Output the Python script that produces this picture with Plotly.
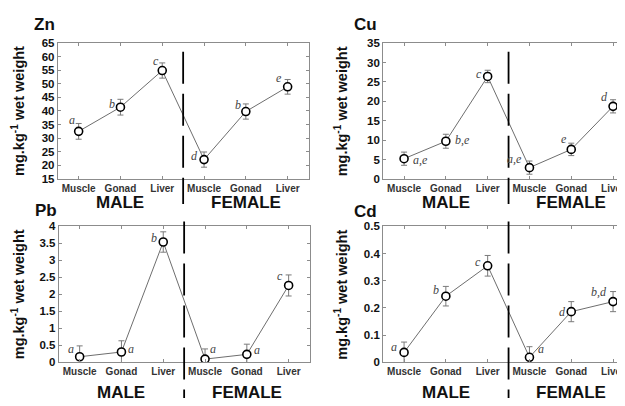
import plotly.graph_objects as go

# ---------------- data ----------------
tissues = ["Muscle", "Gonad", "Liver", "Muscle", "Gonad", "Liver"]
sex_groups = ["MALE", "FEMALE"]
x_pos = [0, 1, 2, 3, 4, 5]

zn_mean = [32.5, 41.4, 54.9, 22.1, 39.8, 48.9]
zn_err = [2.9, 2.9, 2.8, 2.8, 2.8, 2.7]
zn_letters = ["a", "b", "c", "d", "b", "e"]

cu_mean = [5.2, 9.7, 26.4, 2.9, 7.6, 18.7]
cu_err = [1.7, 1.8, 1.6, 1.7, 1.6, 1.7]
cu_letters = ["a,e", "b,e", "c", "a,e", "e", "d"]

pb_mean = [0.16, 0.30, 3.54, 0.09, 0.23, 2.26]
pb_err = [0.32, 0.33, 0.30, 0.30, 0.30, 0.31]
pb_letters = ["a", "a", "b", "a", "a", "c"]

cd_mean = [0.036, 0.243, 0.355, 0.018, 0.186, 0.223]
cd_err = [0.038, 0.036, 0.038, 0.039, 0.037, 0.037]
cd_letters = ["a", "b", "c", "a", "d", "b,d"]

# ---------------- layout helpers ----------------
# the page body has an 8px default margin, so the figure is offset by 8px
OFF = 8
W, H = 625 - OFF, 406 - OFF
PX_PER_UNIT = 42.0

def fx(px):
    return (px - OFF) / W

def fy(py):
    return 1 - (py - OFF) / H

panels = [
    dict(title="Zn", mean=zn_mean, err=zn_err, letters=zn_letters,
         box=(58, 310, 38, 178), yrange=[15, 65], dtick=5, right=False,
         title_xy=(45, 19), ylab_x=18, div=(47, 204), sex_y=202,
         offs=[(-7, -11, "center"), (-8, -3, "center"), (-6, -10, "center"),
               (-10, -4, "center"), (-8, -7, "center"), (-9, -9, "center")]),
    dict(title="Cu", mean=cu_mean, err=cu_err, letters=cu_letters,
         box=(385, 625, 38, 178), yrange=[0, 35], dtick=5, right=True,
         title_xy=(367, 19), ylab_x=343, div=(47, 204), sex_y=202,
         offs=[(7, 1, "left"), (7, -1, "left"), (-9, -2, "center"),
               (-5, -9, "right"), (-7, -10, "center"), (-9, -9, "center")]),
    dict(title="Pb", mean=pb_mean, err=pb_err, letters=pb_letters,
         box=(59, 311, 227, 367), yrange=[0, 4], dtick=0.5, right=False,
         title_xy=(46, 211), ylab_x=18, div=(222, 404), sex_y=398,
         offs=[(-9, -8, "center"), (10, -3, "center"), (-9, -4, "center"),
               (8, -10, "center"), (10, -4, "center"), (-9, -9, "center")]),
    dict(title="Cd", mean=cd_mean, err=cd_err, letters=cd_letters,
         box=(385, 625, 227, 367), yrange=[0, 0.5], dtick=0.1, right=True,
         title_xy=(367, 212), ylab_x=343, div=(222, 404), sex_y=398,
         offs=[(-10, -5, "center"), (-10, -6, "center"), (-10, -4, "center"),
               (12, -8, "center"), (-9, 0, "center"), (-4, -10, "right")]),
]

FONT = "Arial, Liberation Sans, sans-serif"
SERIF = "Times New Roman, Liberation Serif, serif"

fig = go.Figure()
annotations = []
shapes = []
layout_axes = {}

for i, p in enumerate(panels):
    n = "" if i == 0 else str(i + 1)
    xa, ya = "x" + n, "y" + n
    x0, x1, y0, y1 = p["box"]
    xr = [-0.5, -0.5 + (x1 - x0) / PX_PER_UNIT]

    fig.add_trace(go.Scatter(
        x=x_pos, y=p["mean"], xaxis=xa, yaxis=ya, mode="lines+markers",
        line=dict(color="#6e6e6e", width=1),
        marker=dict(symbol="circle", size=8, color="white",
                    line=dict(color="black", width=1.6)),
        error_y=dict(type="data", array=p["err"], color="#7a7a7a",
                     thickness=1, width=3),
        showlegend=False, hoverinfo="skip"))

    layout_axes["xaxis" + n] = dict(
        domain=[fx(x0), fx(x1)], range=xr, anchor=ya,
        tickmode="array", tickvals=x_pos, ticktext=tissues,
        showgrid=False, zeroline=False, showline=True, linecolor="#8c8c8c",
        linewidth=1, mirror="allticks", ticks="inside", ticklen=3,
        tickcolor="#8c8c8c", ticklabeloverflow="allow",
        tickfont=dict(family=FONT, size=10, color="#333333", weight="bold"))
    layout_axes["yaxis" + n] = dict(
        domain=[fy(y1), fy(y0)], range=p["yrange"], anchor=xa,
        dtick=p["dtick"], tick0=0, showgrid=False, zeroline=False,
        showline=True, linecolor="#8c8c8c", linewidth=1,
        mirror=(False if p["right"] else "allticks"),
        ticks="inside", ticklen=3, tickcolor="#8c8c8c",
        tickfont=dict(family=FONT, size=11.5, color="#111111", weight="bold"))

    # panel title
    tx, ty = p["title_xy"]
    annotations.append(dict(text="<b>%s</b>" % p["title"], xref="paper", yref="paper",
                            x=fx(tx), y=fy(ty), xanchor="center", yanchor="middle",
                            showarrow=False, font=dict(family=FONT, size=17, color="#111")))
    # y-axis title
    annotations.append(dict(text="<b>mg.kg<sup>-1</sup> wet weight</b>", xref="paper", yref="paper",
                            x=fx(p["ylab_x"]), y=fy((y0 + y1) / 2), xanchor="center",
                            yanchor="middle", textangle=-90, showarrow=False,
                            font=dict(family=FONT, size=14.5, color="#111")))
    # MALE / FEMALE
    for g, gx in zip(sex_groups, [1, 4]):
        annotations.append(dict(text="<b>%s</b>" % g, xref=xa, yref="paper",
                                x=gx, y=fy(p["sex_y"]), xanchor="center", yanchor="middle",
                                showarrow=False, font=dict(family=FONT, size=17, color="#111")))
    # significance letters
    for xv, yv, lt, (dx, dy, anc) in zip(x_pos, p["mean"], p["letters"], p["offs"]):
        annotations.append(dict(text="<i>%s</i>" % lt, xref=xa, yref=ya, x=xv, y=yv,
                                xshift=dx, yshift=-dy, xanchor=anc, yanchor="middle",
                                showarrow=False,
                                font=dict(family=SERIF, size=12, color="#444")))
    # dashed divider between sexes
    d0, d1 = p["div"]
    shapes.append(dict(type="line", xref=xa, yref="paper", x0=2.5, x1=2.5,
                       y0=fy(d0), y1=fy(d1),
                       line=dict(color="black", width=1.8, dash="32px,10px")))

fig.update_layout(
    width=W, height=H, margin=dict(l=0, r=0, t=0, b=0),
    paper_bgcolor="white", plot_bgcolor="white",
    annotations=annotations, shapes=shapes, **layout_axes)

fig.write_html("out.html")
